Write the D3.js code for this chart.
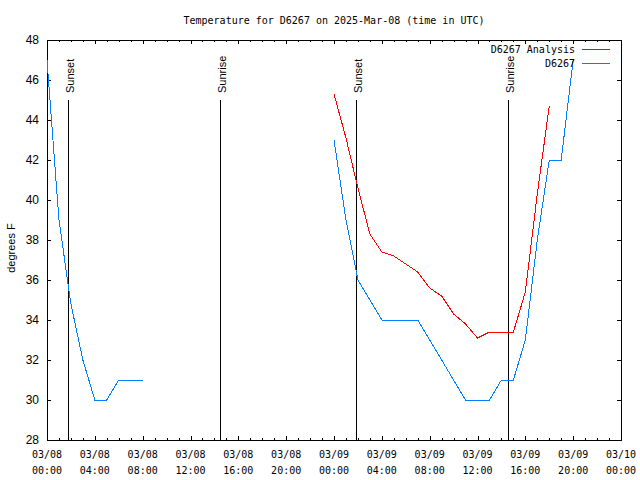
<!DOCTYPE html>
<html>
<head>
<meta charset="utf-8">
<script src="https://cdn.jsdelivr.net/npm/d3@7"></script>
<style>
  html, body { margin: 0; padding: 0; background: #ffffff; }
  svg { display: block; }
  .mono { font-family: "DejaVu Sans Mono", "Liberation Mono", monospace; }
  .sans { font-family: "Liberation Sans", Arial, sans-serif; }
</style>
</head>
<body>
<script>
// ---------------- data ----------------
const startTime = "2025-03-08T00:00:00Z";
const endTime = "2025-03-10T00:00:00Z";

// Observed station temperatures (hours after start; null = gap)
const obsHours = [0, 1, 2, 3, 4, 5, 6, 7, 8, 16, 24, 25, 26, 27, 28, 29, 30, 31, 32, 33, 34, 35, 36, 37, 38, 39, 40, 41, 42, 43, 44];
const obsTemps = [47, 39, 34.8, 32, 30, 30, 31, 31, 31, null, 43, 39, 36, 35, 34, 34, 34, 34, 33, 32, 31, 30, 30, 30, 31, 31, 33, 38, 42, 42, 47];

// Analysis temperatures
const anaHours = [24, 25, 26, 27, 28, 29, 30, 31, 32, 33, 34, 35, 36, 37, 38, 39, 40, 41, 42];
const anaTemps = [45.3, 43.1, 40.6, 38.3, 37.4, 37.2, 36.8, 36.4, 35.6, 35.2, 34.3, 33.8, 33.1, 33.4, 33.4, 33.4, 35.4, 40.3, 44.7];

// Sun events
const sunLabels = ["Sunset", "Sunrise", "Sunset", "Sunrise"];
const sunTimes = ["2025-03-08T01:47:00Z", "2025-03-08T14:28:00Z", "2025-03-09T01:51:00Z", "2025-03-09T14:34:00Z"];
const sunLineTop = 45;

const seriesNames = ["D6267 Analysis", "D6267"];
const seriesColors = ["#ff0000", "#0080ff"];
const yTicks = [28, 30, 32, 34, 36, 38, 40, 42, 44, 46, 48];
const titleText = "Temperature for D6267 on 2025-Mar-08 (time in UTC)";
const yLabel = "degrees F";

// ---------------- layout ----------------
const W = 640, H = 480;
const L = 47, R = 621, T = 40, B = 440;

const t0 = new Date(startTime);
const hourToDate = h => new Date(t0.getTime() + h * 3600000);

const x = d3.scaleUtc().domain([new Date(startTime), new Date(endTime)]).range([L, R]);
const y = d3.scaleLinear().domain([28, 48]).range([B, T]);

const svg = d3.select("body").append("svg").attr("width", W).attr("height", H);

// title
svg.append("text").attr("class", "mono")
  .attr("x", 334).attr("y", 24)
  .attr("text-anchor", "middle").attr("font-size", "10px")
  .text(titleText);

// frame
svg.append("rect").attr("x", L + 0.5).attr("y", T + 0.5)
  .attr("width", R - L).attr("height", B - T)
  .attr("fill", "none").attr("stroke", "#000").attr("stroke-width", 1)
  .attr("shape-rendering", "crispEdges");

// x ticks
const majorTicks = x.ticks(d3.utcHour.every(4));
const minorTicks = x.ticks(d3.utcHour.every(1));
const tickG = svg.append("g").attr("shape-rendering", "crispEdges").attr("stroke", "#000");
minorTicks.forEach(d => {
  const isMajor = d.getUTCHours() % 4 === 0;
  const len = isMajor ? 4 : 2;
  const px = Math.round(x(d)) + 0.5;
  tickG.append("line").attr("x1", px).attr("x2", px).attr("y1", B).attr("y2", B - len);
  tickG.append("line").attr("x1", px).attr("x2", px).attr("y1", T).attr("y2", T + len);
});
// y ticks
yTicks.forEach(v => {
  const py = Math.round(y(v)) + 0.5;
  tickG.append("line").attr("x1", L).attr("x2", L + 4).attr("y1", py).attr("y2", py);
  tickG.append("line").attr("x1", R).attr("x2", R - 4).attr("y1", py).attr("y2", py);
});

// x tick labels
const fmtDate = d3.utcFormat("%m/%d");
const fmtTime = d3.utcFormat("%H:%M");
majorTicks.forEach(d => {
  const g = svg.append("text").attr("class", "mono")
    .attr("font-size", "10px").attr("text-anchor", "middle");
  g.append("tspan").attr("x", x(d)).attr("y", 458).text(fmtDate(d));
  g.append("tspan").attr("x", x(d)).attr("y", 474).text(fmtTime(d));
});

// y tick labels
yTicks.forEach(v => {
  svg.append("text").attr("class", "sans")
    .attr("x", 39).attr("y", y(v) + 4)
    .attr("text-anchor", "end").attr("font-size", "12px")
    .text(v);
});

// y axis label
svg.append("text").attr("class", "sans")
  .attr("transform", "translate(15,248) rotate(-90)")
  .attr("text-anchor", "middle").attr("font-size", "11px")
  .text(yLabel);

// sun lines
sunTimes.forEach((s, i) => {
  const px = Math.round(x(new Date(s))) + 0.5;
  svg.append("line").attr("x1", px).attr("x2", px)
    .attr("y1", y(sunLineTop)).attr("y2", B)
    .attr("stroke", "#000").attr("stroke-width", 1)
    .attr("shape-rendering", "crispEdges");
  svg.append("text").attr("class", "sans")
    .attr("transform", `translate(${px + 5.5},93) rotate(-90)`)
    .attr("text-anchor", "start").attr("font-size", "11px")
    .text(sunLabels[i]);
});

// data lines
const obsData = obsHours.map((h, i) => ({ t: hourToDate(h), v: obsTemps[i] }));
const anaData = anaHours.map((h, i) => ({ t: hourToDate(h), v: anaTemps[i] }));
const line = d3.line().defined(d => d.v != null).x(d => x(d.t)).y(d => y(d.v));

svg.append("path").datum(anaData).attr("d", line)
  .attr("fill", "none").attr("stroke", seriesColors[0]).attr("stroke-width", 1)
  .attr("shape-rendering", "crispEdges");
svg.append("path").datum(obsData).attr("d", line)
  .attr("fill", "none").attr("stroke", seriesColors[1]).attr("stroke-width", 1)
  .attr("shape-rendering", "crispEdges");

// legend
seriesNames.forEach((n, i) => {
  const ly = 49 + i * 14;
  svg.append("text").attr("class", "mono")
    .attr("x", 575).attr("y", ly + 4)
    .attr("text-anchor", "end").attr("font-size", "10px")
    .text(n);
  svg.append("line").attr("x1", 582).attr("x2", 610)
    .attr("y1", ly + 0.5).attr("y2", ly + 0.5)
    .attr("stroke", seriesColors[i]).attr("stroke-width", 1)
    .attr("shape-rendering", "crispEdges");
});
</script>
</body>
</html>
